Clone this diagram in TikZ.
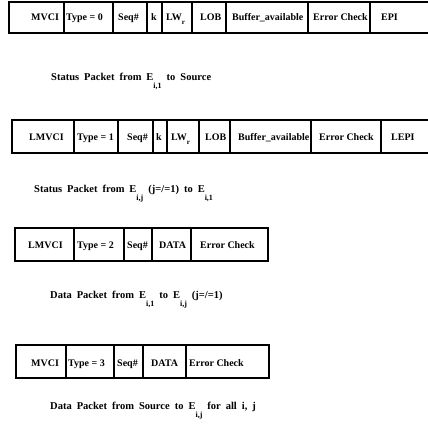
\documentclass[tikz,border=0pt]{standalone}
\usepackage{fontspec}
\setmainfont{Liberation Serif}
% E with its index set well below the line, as in the printed captions
\newcommand{\lowsub}[2]{#1\raisebox{-8.5pt}{\fontsize{8}{9}\selectfont #2}}
% field name with a small lowered index (LW_r)
\newcommand{\fieldsub}[2]{#1\raisebox{-4pt}{\fontsize{7}{8}\selectfont #2}}
% caption font with wide word spacing
\newcommand{\notefont}{\fontsize{10.5}{12}\selectfont\bfseries\spaceskip 5pt\relax}
\begin{document}
\begin{tikzpicture}[x=1pt,y=-1pt,
  boxline/.style={draw=black,line width=1.2pt},
  fld/.style={inner sep=0pt,anchor=base west,font=\fontsize{10}{12}\selectfont\bfseries},
  note/.style={inner sep=0pt,anchor=base west,font=\notefont}]
% white page, also fixing the picture size
\fill[white] (0,0) rectangle (428,428);
\useasboundingbox (0,0) rectangle (428,428);

% ---- status packet, end node to source ----
\draw[boxline] (428,2) -- (9,2) -- (9,33) -- (428,33);
\foreach \x in {64,113,147,162,192,226,308,370} \draw[boxline] (\x,2) -- (\x,33);
\node[fld] (a1) at (31,21) {MVCI};
\node[fld] (a2) at (66,21) {Type = 0};
\node[fld] (a3) at (118,21) {Seq\#};
\node[fld] (a4) at (151,21) {k};
\node[fld] (a5) at (166,21) {\fieldsub{LW}{r}};
\node[fld] (a6) at (200,21) {LOB};
\node[fld] (a7) at (232,21) {Buffer\_available};
\node[fld] (a8) at (313,21) {Error Check};
\node[fld] (a9) at (381,21) {EPI};
\node[note] (c1) at (51,80) {Status Packet from \lowsub{E}{i,1} to Source};

% ---- status packet between end nodes ----
\draw[boxline] (428,120) -- (12,120) -- (12,153) -- (428,153);
\foreach \x in {74,118,153,167,199,230,311,381} \draw[boxline] (\x,120) -- (\x,153);
\node[fld] (b1) at (29,140) {LMVCI};
\node[fld] (b2) at (77,140) {Type = 1};
\node[fld] (b3) at (127,140) {Seq\#};
\node[fld] (b4) at (156,140) {k};
\node[fld] (b5) at (171,140) {\fieldsub{LW}{r}};
\node[fld] (b6) at (205,140) {LOB};
\node[fld] (b7) at (238,140) {Buffer\_available};
\node[fld] (b8) at (319,140) {Error Check};
\node[fld] (b9) at (391,140) {LEPI};
\node[note] (c2) at (34,192) {Status Packet from \lowsub{E}{i,j} (j=/=1) to \lowsub{E}{i,1}};

% ---- data packet between end nodes ----
\draw[boxline] (15,228) rectangle (268,261);
\foreach \x in {74,124,152,191} \draw[boxline] (\x,228) -- (\x,261);
\node[fld] (d1) at (28,248) {LMVCI};
\node[fld] (d2) at (77,248) {Type = 2};
\node[fld] (d3) at (127,248) {Seq\#};
\node[fld] (d4) at (159,248) {DATA};
\node[fld] (d5) at (200,248) {Error Check};
\node[note] (c3) at (50,298) {Data Packet from \lowsub{E}{i,1} to \lowsub{E}{i,j} (j=/=1)};

% ---- data packet from source ----
\draw[boxline] (16,345) rectangle (269,378);
\foreach \x in {66,114,143,186} \draw[boxline] (\x,345) -- (\x,378);
\node[fld] (e1) at (31,366) {MVCI};
\node[fld] (e2) at (68,366) {Type = 3};
\node[fld] (e3) at (117,366) {Seq\#};
\node[fld] (e4) at (151,366) {DATA};
\node[fld] (e5) at (189,366) {Error Check};
\node[note] (c4) at (50,409) {Data Packet from Source to \lowsub{E}{i,j} for all i, j};
\end{tikzpicture}
\end{document}
